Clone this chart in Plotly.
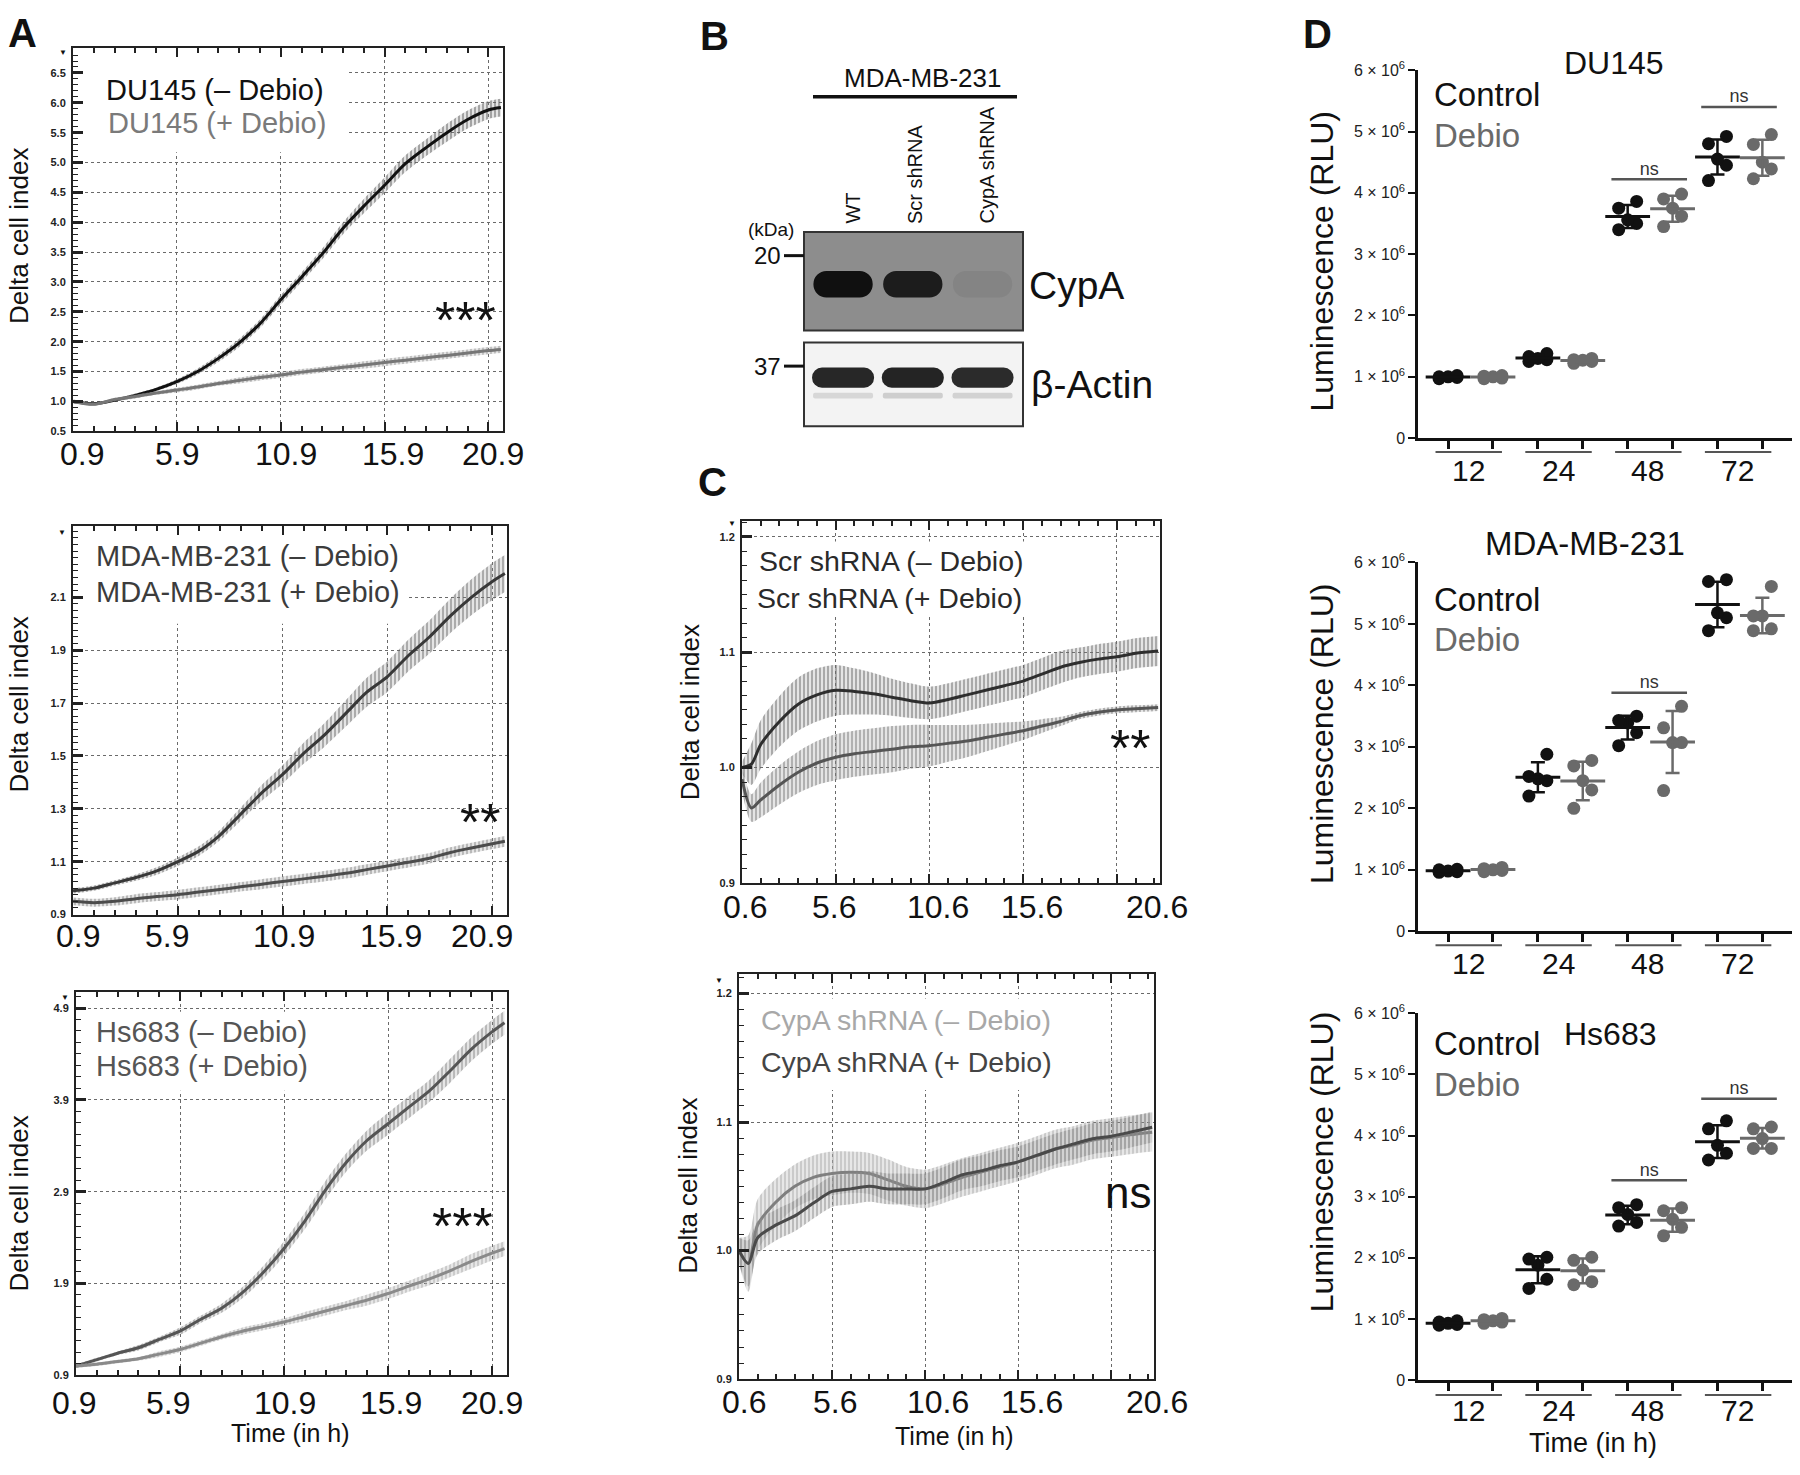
import numpy as np
import plotly.graph_objects as go

FONT = "Liberation Sans, Arial, Helvetica, sans-serif"
W, H = 1800, 1475

# ------------------------------------------------------------------ data
# Panel A (xCELLigence, hours)
TIME_A = [0.9, 1.9, 2.9, 3.9, 4.9, 5.9, 6.9, 7.9, 8.9, 9.9, 10.9, 11.9, 12.9,
          13.9, 14.9, 15.9, 16.9, 17.9, 18.9, 19.9, 20.9, 21.5]
DU145_CTRL = [1.00, 0.96, 1.02, 1.10, 1.20, 1.33, 1.50, 1.72, 1.98, 2.30, 2.70, 3.08,
              3.47, 3.90, 4.27, 4.62, 4.98, 5.25, 5.50, 5.72, 5.88, 5.92]
DU145_CTRL_SD = [0.03, 0.02, 0.02, 0.03, 0.03, 0.04, 0.05, 0.06, 0.07, 0.07, 0.08, 0.08,
                 0.09, 0.10, 0.12, 0.13, 0.14, 0.14, 0.15, 0.15, 0.15, 0.15]
DU145_DEBIO = [1.00, 0.95, 1.03, 1.08, 1.14, 1.19, 1.24, 1.30, 1.35, 1.40, 1.44, 1.49,
               1.53, 1.57, 1.61, 1.65, 1.69, 1.73, 1.77, 1.81, 1.85, 1.87]
DU145_DEBIO_SD = [0.03, 0.02, 0.03, 0.03, 0.03, 0.04, 0.04, 0.04, 0.05, 0.05, 0.05, 0.05,
                  0.05, 0.05, 0.06, 0.06, 0.06, 0.06, 0.06, 0.06, 0.06, 0.06]

MDA_CTRL = [0.99, 1.00, 1.02, 1.04, 1.065, 1.10, 1.14, 1.20, 1.28, 1.36, 1.43, 1.51,
            1.58, 1.66, 1.74, 1.80, 1.88, 1.95, 2.03, 2.10, 2.16, 2.19]
MDA_CTRL_SD = [0.010, 0.010, 0.010, 0.012, 0.014, 0.016, 0.018, 0.020, 0.025, 0.030, 0.035,
               0.040, 0.045, 0.050, 0.055, 0.058, 0.060, 0.063, 0.065, 0.068, 0.070, 0.070]
MDA_DEBIO = [0.950, 0.945, 0.950, 0.960, 0.968, 0.975, 0.985, 0.995, 1.005, 1.015, 1.025,
             1.035, 1.045, 1.056, 1.070, 1.084, 1.098, 1.113, 1.135, 1.152, 1.168, 1.177]
MDA_DEBIO_SD = [0.015, 0.015, 0.016, 0.017, 0.017, 0.018, 0.018, 0.018, 0.018, 0.019, 0.019,
                0.019, 0.020, 0.020, 0.020, 0.020, 0.020, 0.020, 0.020, 0.020, 0.020, 0.020]

HS_CTRL = [1.00, 1.07, 1.14, 1.20, 1.29, 1.38, 1.51, 1.63, 1.80, 2.02, 2.28, 2.58,
           2.92, 3.22, 3.46, 3.64, 3.82, 4.00, 4.22, 4.45, 4.64, 4.74]
HS_CTRL_SD = [0.02, 0.02, 0.02, 0.03, 0.03, 0.04, 0.04, 0.05, 0.06, 0.07, 0.08, 0.09,
              0.10, 0.10, 0.11, 0.12, 0.12, 0.12, 0.13, 0.13, 0.13, 0.13]
HS_DEBIO = [1.00, 1.02, 1.05, 1.08, 1.13, 1.18, 1.25, 1.32, 1.38, 1.43, 1.48, 1.54,
            1.60, 1.66, 1.72, 1.79, 1.87, 1.95, 2.04, 2.14, 2.23, 2.28]
HS_DEBIO_SD = [0.02, 0.02, 0.02, 0.02, 0.03, 0.03, 0.03, 0.03, 0.04, 0.04, 0.04, 0.05,
               0.05, 0.05, 0.06, 0.06, 0.06, 0.07, 0.07, 0.08, 0.08, 0.08]

# Panel C (xCELLigence, hours)
TIME_C = [0.6, 1.1, 1.6, 2.6, 3.6, 4.6, 5.6, 6.6, 7.6, 8.6, 9.6, 10.6, 11.6, 12.6,
          13.6, 14.6, 15.6, 16.6, 17.6, 18.6, 19.6, 20.6, 21.6, 22.8]
SCR_CTRL = [1.000, 1.003, 1.020, 1.040, 1.055, 1.063, 1.067, 1.066, 1.064, 1.061, 1.058, 1.056,
            1.059, 1.063, 1.067, 1.071, 1.075, 1.081, 1.087, 1.091, 1.094, 1.096, 1.099, 1.101]
SCR_CTRL_SD = [0.005, 0.018, 0.021, 0.022, 0.023, 0.023, 0.022, 0.020, 0.018, 0.016, 0.015, 0.014,
               0.014, 0.014, 0.014, 0.014, 0.014, 0.014, 0.014, 0.013, 0.013, 0.013, 0.013, 0.013]
SCR_DEBIO = [0.990, 0.965, 0.972, 0.985, 0.996, 1.004, 1.009, 1.012, 1.014, 1.016, 1.018, 1.019,
             1.021, 1.023, 1.026, 1.029, 1.032, 1.036, 1.040, 1.045, 1.048, 1.050, 1.051, 1.052]
SCR_DEBIO_SD = [0.010, 0.012, 0.015, 0.017, 0.018, 0.019, 0.020, 0.020, 0.020, 0.020, 0.019, 0.018,
                0.016, 0.014, 0.012, 0.010, 0.008, 0.006, 0.004, 0.003, 0.003, 0.003, 0.003, 0.003]
CYPA_CTRL = [1.000, 0.990, 1.020, 1.038, 1.050, 1.057, 1.060, 1.061, 1.060, 1.055, 1.050, 1.048,
             1.052, 1.057, 1.061, 1.065, 1.069, 1.074, 1.079, 1.082, 1.086, 1.088, 1.090, 1.092]
CYPA_CTRL_SD = [0.010, 0.022, 0.020, 0.018, 0.017, 0.017, 0.017, 0.016, 0.016, 0.016, 0.015, 0.015,
                0.015, 0.015, 0.015, 0.015, 0.015, 0.015, 0.015, 0.015, 0.015, 0.015, 0.015, 0.015]
CYPA_DEBIO = [1.000, 0.990, 1.010, 1.020, 1.027, 1.037, 1.046, 1.048, 1.050, 1.048, 1.048, 1.048,
              1.053, 1.059, 1.062, 1.066, 1.069, 1.074, 1.079, 1.083, 1.087, 1.089, 1.092, 1.096]
CYPA_DEBIO_SD = [0.010, 0.018, 0.013, 0.012, 0.012, 0.012, 0.012, 0.012, 0.012, 0.012, 0.012, 0.012,
                 0.012, 0.012, 0.012, 0.012, 0.012, 0.012, 0.012, 0.012, 0.012, 0.012, 0.012, 0.012]

XT_A = ["0.9", "5.9", "10.9", "15.9", "20.9"]
XT_C = ["0.6", "5.6", "10.6", "15.6", "20.6"]
YT_A1 = [0.5, 1.0, 1.5, 2.0, 2.5, 3.0, 3.5, 4.0, 4.5, 5.0, 5.5, 6.0, 6.5]
YT_A2 = [0.9, 1.1, 1.3, 1.5, 1.7, 1.9, 2.1]
YT_A3 = [0.9, 1.9, 2.9, 3.9, 4.9]
YT_C = [0.9, 1.0, 1.1, 1.2]

# Panel B (western blot, relative band intensity)
LANES = ["WT", "Scr shRNA", "CypA shRNA"]
CYPA_BAND = [1.00, 0.90, 0.07]
ACTIN_BAND = [0.96, 0.97, 0.94]
ACTIN_FAINT = [0.30, 0.40, 0.35]

# Panel D (luminescence, x 10^6 RLU), 5 replicates per group
D_GROUPS = ["12", "24", "48", "72"]
LUM_SCALE = 1e6
DU145_LUM_CTRL = [[0.97, 0.99, 1.00, 1.00, 1.02], [1.25, 1.28, 1.30, 1.33, 1.38],
                  [3.40, 3.50, 3.56, 3.75, 3.86], [4.20, 4.45, 4.55, 4.80, 4.92]]
DU145_LUM_DEBIO = [[0.97, 0.98, 1.00, 1.01, 1.02], [1.22, 1.25, 1.27, 1.28, 1.30],
                   [3.45, 3.62, 3.75, 3.90, 3.98], [4.23, 4.39, 4.50, 4.79, 4.95]]
MDA_LUM_CTRL = [[0.96, 0.97, 0.98, 1.00, 1.01], [2.20, 2.45, 2.48, 2.52, 2.88],
                [3.02, 3.23, 3.39, 3.43, 3.50], [4.89, 5.10, 5.18, 5.69, 5.72]]
MDA_LUM_DEBIO = [[0.97, 0.99, 1.00, 1.02, 1.04], [2.00, 2.30, 2.45, 2.69, 2.78],
                 [2.29, 3.07, 3.07, 3.31, 3.66], [4.89, 4.92, 5.13, 5.13, 5.61]]
HS_LUM_CTRL = [[0.90, 0.91, 0.93, 0.95, 0.97], [1.50, 1.65, 1.88, 1.98, 2.01],
               [2.52, 2.58, 2.71, 2.82, 2.87], [3.60, 3.71, 3.84, 4.11, 4.24]]
HS_LUM_DEBIO = [[0.93, 0.95, 0.97, 0.99, 1.01], [1.56, 1.61, 1.80, 1.96, 2.01],
                [2.36, 2.50, 2.63, 2.77, 2.82], [3.79, 3.79, 3.95, 4.11, 4.14]]
NS_DU145 = [4.22, 5.40]   # bracket heights for 48 h and 72 h
NS_MDA = [3.88, 6.10]
NS_HS = [3.27, 4.60]
LUM_TICKS = [0, 1, 2, 3, 4, 5, 6]

# ------------------------------------------------------------------ helpers
def px(x):
    return x / W


def py(y):
    return 1 - y / H


def dom_x(a, b):
    return [a / W, b / W]


def dom_y(top, bottom):
    return [1 - bottom / H, 1 - top / H]


fig = go.Figure()
annotations = []
shapes = []


def T(text, x, y, size, color="#111", xa="center", ya="middle", angle=0, bold=False):
    annotations.append(dict(text=text, x=px(x), y=py(y), xref="paper", yref="paper",
                            showarrow=False, xanchor=xa, yanchor=ya, textangle=angle,
                            borderpad=0,
                            font=dict(size=size, color=color, family=FONT,
                                      weight="bold" if bold else "normal")))


def add_curve(t, m, s, xa, ya, line_color, band_color):
    up = [a + b for a, b in zip(m, s)]
    lo = [a - b for a, b in zip(m, s)]
    ln = dict(width=0, shape="spline", smoothing=0.8)
    fig.add_trace(go.Scatter(x=t, y=up, xaxis=xa, yaxis=ya, mode="lines", line=ln,
                             hoverinfo="skip", showlegend=False))
    fig.add_trace(go.Scatter(x=t, y=lo, xaxis=xa, yaxis=ya, mode="lines", line=ln,
                             fill="tonexty", fillcolor="rgba(0,0,0,0)",
                             fillpattern=dict(shape="|", fgcolor=band_color,
                                              bgcolor="rgba(140,140,140,0.18)",
                                              size=4, solidity=0.55),
                             hoverinfo="skip", showlegend=False))
    fig.add_trace(go.Scatter(x=t, y=m, xaxis=xa, yaxis=ya, mode="lines",
                             line=dict(color=line_color, width=3, shape="spline", smoothing=0.8),
                             showlegend=False))


def xcell_x(domain, rng, tick0, anchor):
    return dict(domain=domain, range=rng, anchor=anchor, tickmode="linear", tick0=tick0, dtick=5,
                ticks="inside", ticklen=9, tickwidth=2, tickcolor="#222", showticklabels=False,
                showgrid=True, gridcolor="#6a6a6a", gridwidth=1.4, griddash="dot",
                showline=True, linecolor="#222", linewidth=2, mirror="allticks", zeroline=False,
                minor=dict(tick0=tick0, dtick=1, ticks="inside", ticklen=5, tickwidth=1.5,
                           tickcolor="#222", showgrid=False))


def xcell_y(domain, rng, tickvals, minor_dtick, anchor):
    return dict(domain=domain, range=rng, anchor=anchor, tickmode="array", tickvals=tickvals,
                ticktext=["%.1f" % v for v in tickvals], ticks="inside", ticklen=10,
                tickwidth=2.5, tickcolor="#222",
                tickfont=dict(size=11, color="#222", family=FONT, weight="bold"),
                ticklabelstandoff=3,
                showgrid=True, gridcolor="#6a6a6a", gridwidth=1.4, griddash="dot",
                showline=True, linecolor="#222", linewidth=2, mirror=True, zeroline=False,
                minor=dict(tick0=rng[0], dtick=minor_dtick, ticks="inside", ticklen=5,
                           tickwidth=1.3, tickcolor="#222", showgrid=False))


def legend_box(xa, ya, x0, x1, y0, y1):
    shapes.append(dict(type="rect", xref=xa, yref=ya, x0=x0, x1=x1, y0=y0, y1=y1,
                       fillcolor="white", line=dict(width=0), layer="between"))


# ------------------------------------------------------------------ panel A
add_curve(TIME_A, DU145_CTRL, DU145_CTRL_SD, "x", "y", "#111111", "#5e5e5e")
add_curve(TIME_A, DU145_DEBIO, DU145_DEBIO_SD, "x", "y", "#767676", "#9a9a9a")
add_curve(TIME_A, MDA_CTRL, MDA_CTRL_SD, "x2", "y2", "#383838", "#6e6e6e")
add_curve(TIME_A, MDA_DEBIO, MDA_DEBIO_SD, "x2", "y2", "#4c4c4c", "#8a8a8a")
add_curve(TIME_A, HS_CTRL, HS_CTRL_SD, "x3", "y3", "#555555", "#8a8a8a")
add_curve(TIME_A, HS_DEBIO, HS_DEBIO_SD, "x3", "y3", "#8a8a8a", "#adadad")

# ------------------------------------------------------------------ panel C
add_curve(TIME_C, SCR_CTRL, SCR_CTRL_SD, "x6", "y6", "#2e2e2e", "#6a6a6a")
add_curve(TIME_C, SCR_DEBIO, SCR_DEBIO_SD, "x6", "y6", "#555555", "#7a7a7a")
add_curve(TIME_C, CYPA_CTRL, CYPA_CTRL_SD, "x7", "y7", "#7f7f7f", "#ababab")
add_curve(TIME_C, CYPA_DEBIO, CYPA_DEBIO_SD, "x7", "y7", "#4a4a4a", "#8e8e8e")


# ------------------------------------------------------------------ panel B
def blend(bg, fg, t):
    c = [int(round(b + (f - b) * t)) for b, f in zip(bg, fg)]
    return "rgb(%d,%d,%d)" % tuple(c)


fig.add_trace(go.Bar(x=LANES, y=[0.27] * 3, base=[0.335] * 3, width=0.85,
                     marker=dict(color=[blend((141, 141, 141), (16, 16, 16), v) for v in CYPA_BAND],
                                 cornerradius=13, line=dict(width=0)),
                     xaxis="x4", yaxis="y4", showlegend=False, hoverinfo="skip"))
fig.add_trace(go.Bar(x=LANES, y=[0.07] * 3, base=[0.33] * 3, width=0.86,
                     marker=dict(color=[blend((243, 243, 243), (150, 150, 150), v) for v in ACTIN_FAINT],
                                 cornerradius=3, line=dict(width=0)),
                     xaxis="x5", yaxis="y5", showlegend=False, hoverinfo="skip"))
fig.add_trace(go.Bar(x=LANES, y=[0.24] * 3, base=[0.46] * 3, width=0.89,
                     marker=dict(color=[blend((243, 243, 243), (30, 30, 30), v) for v in ACTIN_BAND],
                                 cornerradius=10, line=dict(width=0)),
                     xaxis="x5", yaxis="y5", showlegend=False, hoverinfo="skip"))
for ax, col in (("4", "#8d8d8d"), ("5", "#f3f3f3")):
    shapes.append(dict(type="rect", xref="x%s domain" % ax, yref="y%s domain" % ax,
                       x0=0, x1=1, y0=0, y1=1, fillcolor=col,
                       line=dict(color="#333", width=2), layer="below"))

# ------------------------------------------------------------------ panel D
C_CTRL, C_DEBIO = "#111111", "#6a6a6a"
JIT = [-0.2, 0.2, 0.0, -0.2, 0.2]
D_XR = [-0.67, 7.66]


def add_dots(gc, gd, xa, ya, ns, label_px, line_px):
    for g in range(4):
        for k, (vals, col) in enumerate(((gc[g], C_CTRL), (gd[g], C_DEBIO))):
            pos = 2 * g + k
            fig.add_trace(go.Scatter(x=[pos + JIT[i] for i in range(len(vals))],
                                     y=[v * LUM_SCALE for v in vals], xaxis=xa, yaxis=ya,
                                     mode="markers", marker=dict(size=13, color=col),
                                     cliponaxis=False, showlegend=False))
            mean = float(np.mean(vals)) * LUM_SCALE
            sd = float(np.std(vals, ddof=1)) * LUM_SCALE
            fig.add_trace(go.Scatter(x=[pos], y=[mean], xaxis=xa, yaxis=ya, mode="markers",
                                     marker=dict(symbol="line-ew", size=32, color=col,
                                                 line=dict(width=3, color=col)),
                                     error_y=dict(type="data", array=[sd], thickness=2.5,
                                                  width=7, color=col),
                                     cliponaxis=False, showlegend=False))
        # group label + overline
        f0 = (2 * g - 0.28 - D_XR[0]) / (D_XR[1] - D_XR[0])
        f1 = (2 * g + 1.2 - D_XR[0]) / (D_XR[1] - D_XR[0])
        shapes.append(dict(type="line", xref="%s domain" % xa, yref="paper", x0=f0, x1=f1,
                           y0=py(line_px), y1=py(line_px), line=dict(color="#555", width=2)))
        annotations.append(dict(text=D_GROUPS[g], x=2 * g + 0.45, y=py(label_px), xref=xa,
                                yref="paper", showarrow=False, xanchor="center",
                                yanchor="middle", borderpad=0,
                                font=dict(size=30, color="#111", family=FONT)))
    for j, g in enumerate((2, 3)):
        xm = 2 * g + 0.48
        fig.add_trace(go.Scatter(x=[xm], y=[ns[j] * LUM_SCALE], xaxis=xa, yaxis=ya,
                                 mode="markers", marker=dict(symbol="line-ew", size=54, color="#555",
                                                             line=dict(width=2.5, color="#555")),
                                 cliponaxis=False, showlegend=False))
        fig.add_trace(go.Scatter(x=[xm], y=[ns[j] * LUM_SCALE], xaxis=xa, yaxis=ya,
                                 mode="text", text=["ns"], textposition="top center",
                                 textfont=dict(size=18, color="#333", family=FONT),
                                 cliponaxis=False, showlegend=False))


add_dots(DU145_LUM_CTRL, DU145_LUM_DEBIO, "x8", "y8", NS_DU145, 466, 447)
add_dots(MDA_LUM_CTRL, MDA_LUM_DEBIO, "x9", "y9", NS_MDA, 966, 947)
add_dots(HS_LUM_CTRL, HS_LUM_DEBIO, "x10", "y10", NS_HS, 1419, 1403)


def d_x(domain, anchor):
    return dict(domain=domain, range=D_XR, anchor=anchor, tickmode="array",
                tickvals=list(range(8)), showticklabels=False, ticks="outside", ticklen=8,
                tickwidth=2.5, tickcolor="#111", showline=True, linecolor="#111", linewidth=2.5,
                showgrid=False, zeroline=False)


def d_y(domain, anchor):
    return dict(domain=domain, range=[0, 6 * LUM_SCALE], anchor=anchor, tickmode="array",
                tickvals=[v * LUM_SCALE for v in LUM_TICKS],
                ticktext=["0"] + ["%d × 10<sup>6</sup>" % v for v in LUM_TICKS[1:]],
                ticks="outside", ticklen=7, tickwidth=2, tickcolor="#111",
                tickfont=dict(size=16, color="#222", family=FONT),
                showline=True, linecolor="#111", linewidth=2.5, showgrid=False, zeroline=False)


# ------------------------------------------------------------------ layout axes
layout_axes = dict(
    xaxis=xcell_x(dom_x(73, 503), [0.9, 21.6], 0.9, "y"),
    yaxis=xcell_y(dom_y(38, 426), [0.5, 6.91], YT_A1, 0.1, "x"),
    xaxis2=xcell_x(dom_x(73, 507), [0.9, 21.6], 0.9, "y2"),
    yaxis2=xcell_y(dom_y(522, 916), [0.9, 2.37], YT_A2, 0.025, "x2"),
    xaxis3=xcell_x(dom_x(76, 507), [0.9, 21.62], 0.9, "y3"),
    yaxis3=xcell_y(dom_y(994, 1383), [0.9, 5.08], YT_A3, 0.125, "x3"),
    xaxis4=dict(domain=dom_x(804, 1023), type="category", categoryarray=LANES,
                range=[-0.56, 2.58], visible=False, anchor="y4"),
    yaxis4=dict(domain=dom_y(224, 324), range=[0, 1], visible=False, anchor="x4"),
    xaxis5=dict(domain=dom_x(804, 1023), type="category", categoryarray=LANES,
                range=[-0.56, 2.58], visible=False, anchor="y5"),
    yaxis5=dict(domain=dom_y(336, 421), range=[0, 1], visible=False, anchor="x5"),
    xaxis6=xcell_x(dom_x(742, 1160), [0.6, 22.9], 0.6, "y6"),
    yaxis6=xcell_y(dom_y(517, 884), [0.9, 1.2137], YT_C, 0.0125, "x6"),
    xaxis7=xcell_x(dom_x(739, 1154), [0.6, 22.9], 0.6, "y7"),
    yaxis7=xcell_y(dom_y(976, 1387), [0.9, 1.2153], YT_C, 0.0125, "x7"),
    xaxis8=d_x(dom_x(1418, 1792), "y8"),
    yaxis8=d_y(dom_y(60, 433), "x8"),
    xaxis9=d_x(dom_x(1418, 1792), "y9"),
    yaxis9=d_y(dom_y(559, 933), "x9"),
    xaxis10=d_x(dom_x(1418, 1792), "y10"),
    yaxis10=d_y(dom_y(1016, 1388), "x10"),
)

# legend boxes (cover the dotted grid like the instrument software)
legend_box("x", "y", 0.9, 14.1, 5.17, 6.91)
legend_box("x2", "y2", 0.9, 16.9, 2.0, 2.37)
legend_box("x3", "y3", 0.9, 12.3, 4.0, 4.86)
legend_box("x6", "y6", 0.6, 17.0, 1.1306, 1.196)
legend_box("x7", "y7", 0.6, 17.2, 1.125, 1.196)

# ------------------------------------------------------------------ text
# panel letters
T("A", 7, 22, 40, xa="left", bold=True)
T("B", 699, 25, 40, xa="left", bold=True)
T("C", 697, 477, 40, xa="left", bold=True)
T("D", 1302, 23, 40, xa="left", bold=True)

# xCELLigence tick labels
for txt, x in zip(XT_A, [82, 177, 286, 393, 493]):
    T(txt, x, 449, 32)
for txt, x in zip(XT_A, [78, 167, 284, 391, 482]):
    T(txt, x, 938, 32)
for txt, x in zip(XT_A, [74, 168, 285, 391, 492]):
    T(txt, x, 1411, 32)
for txt, x in zip(XT_C, [745, 834, 938, 1032, 1157]):
    T(txt, x, 908, 32)
for txt, x in zip(XT_C, [744, 835, 938, 1032, 1157]):
    T(txt, x, 1410, 32)

# little instrument markers
for (x, y) in [(63, 42), (62, 529), (65, 1000), (732, 520), (719, 983)]:
    T("▼", x, y, 8)

# axis titles
for y in (228, 703, 1209):
    T("Delta cell index", 19, y, 26, angle=-90)
T("Delta cell index", 690, 711, 26, angle=-90)
T("Delta cell index", 688, 1191, 26, angle=-90)
T("Time (in h)", 290, 1442, 25)
T("Time (in h)", 954, 1445, 25)
T("Time (in h)", 1593, 1452, 27)
T("Luminescence (RLU)", 1322, 254, 32, angle=-90)
T("Luminescence (RLU)", 1322, 733, 32, angle=-90)
T("Luminescence (RLU)", 1322, 1167, 32, angle=-90)

# legends inside the curves
T("DU145 (– Debio)", 105, 80, 29, color="#111", xa="left")
T("DU145 (+ Debio)", 107, 114, 29, color="#7a7a7a", xa="left")
T("MDA-MB-231 (– Debio)", 95, 552, 29, color="#3c3c3c", xa="left")
T("MDA-MB-231 (+ Debio)", 95, 589, 29, color="#3c3c3c", xa="left")
T("Hs683 (– Debio)", 95, 1035, 29, color="#555", xa="left")
T("Hs683 (+ Debio)", 95, 1070, 29, color="#555", xa="left")
T("Scr shRNA (– Debio)", 758, 558, 28.5, color="#2a2a2a", xa="left")
T("Scr shRNA (+ Debio)", 756, 595, 28.5, color="#2a2a2a", xa="left")
T("CypA shRNA (– Debio)", 760, 1023, 28.5, color="#a8a8a8", xa="left")
T("CypA shRNA (+ Debio)", 760, 1065, 28.5, color="#444", xa="left")

# significance marks
T("***", 465, 313, 52)
T("**", 480, 822, 52)
T("***", 462, 1232, 52)
T("**", 1130, 747, 52)
T("ns", 1128, 1198, 44)

# western blot labels
T("MDA-MB-231", 922, 68, 26)
shapes.append(dict(type="line", xref="paper", yref="paper", x0=px(813), x1=px(1017),
                   y0=py(87), y1=py(87), line=dict(color="#111", width=3.5)))
T("WT", 853, 217, 20, angle=-90, ya="bottom")
T("Scr shRNA", 915, 217, 20, angle=-90, ya="bottom")
T("CypA shRNA", 987, 217, 20, angle=-90, ya="bottom")
T("(kDa)", 771, 222, 19)
T("20", 782, 248, 24, xa="right")
T("37", 782, 360, 24, xa="right")
for yy in (248, 360):
    shapes.append(dict(type="line", xref="paper", yref="paper", x0=px(784), x1=px(804),
                       y0=py(yy), y1=py(yy), line=dict(color="#111", width=3)))
T("CypA", 1028, 278, 39, xa="left")
T("β-Actin", 1030, 379, 39, xa="left")

# panel D titles and legends
T("DU145", 1614, 53, 32)
T("MDA-MB-231", 1585, 540, 33)
T("Hs683", 1610, 1037, 32)
for yc, yd in ((85, 126), (597, 637), (1047, 1088)):
    T("Control", 1433, yc, 33, color=C_CTRL, xa="left")
    T("Debio", 1433, yd, 33, color=C_DEBIO, xa="left")

fig.update_layout(width=W, height=H, margin=dict(l=0, r=0, t=0, b=0),
                  paper_bgcolor="white", plot_bgcolor="white", showlegend=False,
                  font=dict(family=FONT, color="#111"), barmode="overlay",
                  annotations=annotations, shapes=shapes, **layout_axes)

# no mode bar, and no default page margin so the figure sits at the window's origin
fig.write_html("out.html", config={"displayModeBar": False},
               post_script="document.body.style.margin = '0px';")
